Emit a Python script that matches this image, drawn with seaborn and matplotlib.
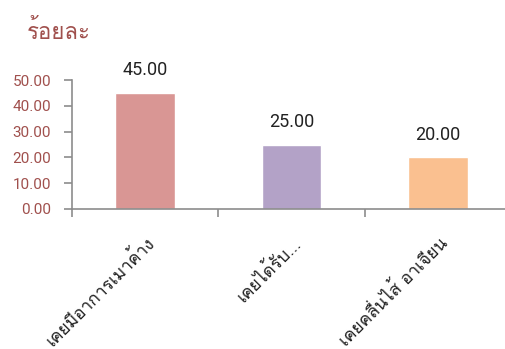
import matplotlib
matplotlib.use("Agg")
import matplotlib.pyplot as plt
import seaborn as sns
import pandas as pd
from matplotlib import font_manager

categories = ["เคยมีอาการเมาค้าง", "เคยได้รับ...", "เคยคลื่นไส้ อาเจียน"]
values = [45.00, 25.00, 20.00]
colors = ["#D99694", "#B3A2C7", "#FAC090"]
yticks = [0, 10, 20, 30, 40, 50]
title = "ร้อยละ"

# find a font that has Thai glyphs
thai_family = None
try:
    from fontTools.ttLib import TTFont
    for fe in font_manager.fontManager.ttflist:
        try:
            f = TTFont(fe.fname, fontNumber=0, lazy=True)
            cmap = f.getBestCmap()
            if cmap and 0x0E01 in cmap and 0x0E40 in cmap:
                thai_family = fe.name
                if "Thai" in fe.name or "Loma" in fe.name or "Garuda" in fe.name:
                    break
        except Exception:
            continue
except Exception:
    pass

installed = {fe.name for fe in font_manager.fontManager.ttflist}
num_font = "Liberation Sans Narrow" if "Liberation Sans Narrow" in installed else "Roboto"
narrow = num_font == "Liberation Sans Narrow"

sns.set_theme(style="white")
thai_fams = ([thai_family] if thai_family else []) + ["DejaVu Sans"]
num_fams = [num_font, "DejaVu Sans"]
plt.rcParams["font.family"] = thai_fams

df = pd.DataFrame({"cat": categories, "val": values})

fig = plt.figure(figsize=(5.06, 3.49), dpi=100)
ax = fig.add_axes([72/506, 1 - 209/349, 439/506, (209 - 80)/349])
sns.barplot(data=df, x="cat", y="val", hue="cat", palette=colors, width=0.41,
            legend=False, ax=ax, saturation=1)
ax.set_ylim(0, 50)
ax.set_xlim(-0.5, 2.5)
ax.set_yticks(yticks)
ax.set_yticklabels([f"{v:.2f}" for v in yticks], color="#A0504D",
                   fontsize=13 if narrow else 11, family=num_fams)
ax.set_xlabel("")
ax.set_ylabel("")

for s in ["top", "right"]:
    ax.spines[s].set_visible(False)
for s in ["left", "bottom"]:
    ax.spines[s].set_color("#8C8C8C")
    ax.spines[s].set_linewidth(1.2)
ax.tick_params(axis="y", direction="out", length=6, width=1.2, color="#8C8C8C", pad=9, left=True)

# category boundary ticks on x
ax.set_xticks([-0.5, 0.5, 1.5, 2.5])
ax.set_xticklabels([])
ax.tick_params(axis="x", direction="out", length=6, width=1.2, color="#8C8C8C", bottom=True)
for i, c in enumerate(categories):
    ax.text(i + 0.0, -0.19, c, transform=ax.get_xaxis_transform(), rotation=45,
            ha="right", va="top", rotation_mode="anchor", fontsize=12.5, color="#222222")

for i, v in enumerate(values):
    ax.annotate(f"{v:.2f}", (i, v), xytext=(0, 10), textcoords="offset points",
                ha="center", va="bottom", fontsize=15.5 if narrow else 13,
                color="#222222", family=num_fams)

fig.text(27/506, 1 - 32/349, title, color="#A0504D", fontsize=16, ha="left", va="center")

fig.savefig("out.png", dpi=100)
